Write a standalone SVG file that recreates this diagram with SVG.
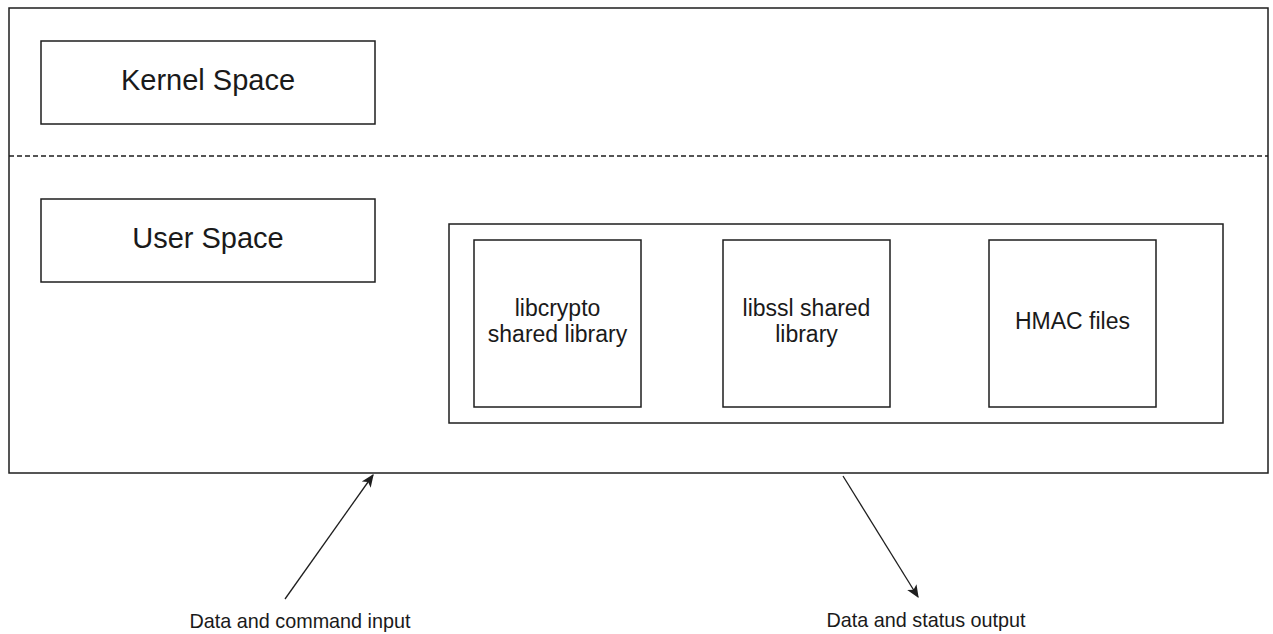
<svg xmlns="http://www.w3.org/2000/svg" width="1273" height="634" viewBox="0 0 1273 634">
<style>
.box{fill:#fff;stroke:#1e1e1e;stroke-width:1.5}
.t{font-family:"Liberation Sans",Arial,sans-serif;fill:#1a1a1a;text-anchor:middle}
.big{font-size:29px}
.mid{font-size:23px}
.sm{font-size:19.8px}
.conn{stroke:#1e1e1e;stroke-width:1.3;fill:none}
</style>
<defs>
<marker id="ah" viewBox="0 0 10 10" refX="9" refY="5" markerWidth="13" markerHeight="13" markerUnits="userSpaceOnUse" orient="auto">
<path d="M0,0.8 L10,5 L0,9.2 L2.5,5 Z" fill="#1e1e1e"/>
</marker>
</defs>
<rect width="1273" height="634" fill="#fff"/>
<g id="system">
<rect class="box" x="9" y="8" width="1259" height="465"/>
<line x1="9" y1="156" x2="1268" y2="156" stroke="#1e1e1e" stroke-width="1.3" stroke-dasharray="5 3"/>
</g>
<g id="kernel-space">
<rect class="box" x="41" y="41" width="334" height="83"/>
<text class="t big" x="208" y="90">Kernel Space</text>
</g>
<g id="user-space">
<rect class="box" x="41" y="199" width="334" height="83"/>
<text class="t big" x="208" y="248">User Space</text>
</g>
<g id="module">
<rect class="box" x="449" y="224" width="774" height="199"/>
</g>
<g id="libcrypto">
<rect class="box" x="474" y="240" width="167" height="167"/>
<text class="t mid" x="557.5" y="316">libcrypto</text>
<text class="t mid" x="557.5" y="342">shared library</text>
</g>
<g id="libssl">
<rect class="box" x="723" y="240" width="167" height="167"/>
<text class="t mid" x="806.5" y="316">libssl shared</text>
<text class="t mid" x="806.5" y="342">library</text>
</g>
<g id="hmac">
<rect class="box" x="989" y="240" width="167" height="167"/>
<text class="t mid" x="1072.5" y="329">HMAC files</text>
</g>
<g id="connectors">
<line class="conn" x1="285" y1="599" x2="373" y2="475" marker-end="url(#ah)"/>
<line class="conn" x1="843" y1="476" x2="918" y2="597" marker-end="url(#ah)"/>
</g>
<g id="labels">
<text class="t sm" x="300" y="628">Data and command input</text>
<text class="t sm" x="926" y="627">Data and status output</text>
</g>
</svg>
